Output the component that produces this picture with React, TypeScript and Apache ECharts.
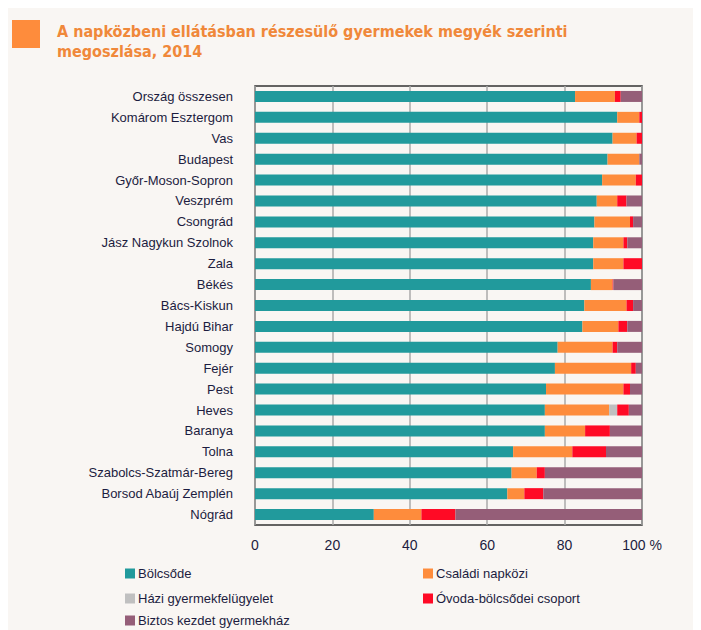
import React, { useEffect, useRef } from "react";
import * as echarts from "echarts";

const categories = [
  "Ország összesen",
  "Komárom Esztergom",
  "Vas",
  "Budapest",
  "Győr-Moson-Sopron",
  "Veszprém",
  "Csongrád",
  "Jász Nagykun Szolnok",
  "Zala",
  "Békés",
  "Bács-Kiskun",
  "Hajdú Bihar",
  "Somogy",
  "Fejér",
  "Pest",
  "Heves",
  "Baranya",
  "Tolna",
  "Szabolcs-Szatmár-Bereg",
  "Borsod Abaúj Zemplén",
  "Nógrád",
];

const bolcsode = [82.7, 93.6, 92.4, 91.1, 89.7, 88.3, 87.7, 87.4, 87.4, 86.8, 85.1, 84.6, 78.2, 77.5, 75.2, 74.9, 74.9, 66.7, 66.3, 65.2, 30.7];
const csaladi = [10.3, 5.7, 6.2, 8.2, 8.7, 5.3, 9.2, 7.8, 7.8, 5.6, 10.9, 9.3, 14.2, 19.7, 20.0, 16.6, 10.4, 15.3, 6.5, 4.4, 12.3];
const hazi = [0, 0, 0, 0, 0, 0, 0, 0, 0, 0, 0, 0, 0, 0, 0, 2.1, 0, 0, 0, 0, 0];
const ovoda = [1.5, 0.7, 1.4, 0, 1.6, 2.4, 0.8, 1.0, 4.8, 0.2, 1.7, 2.3, 1.2, 1.2, 1.7, 3.0, 6.4, 8.7, 2.1, 4.9, 8.8];
const biztos = [5.5, 0, 0, 0.7, 0, 4.0, 2.3, 3.8, 0, 7.4, 2.3, 3.8, 6.4, 1.6, 3.1, 3.4, 8.3, 9.3, 25.1, 25.5, 48.2];

const seriesNames = [
  "Bölcsőde",
  "Családi napközi",
  "Házi gyermekfelügyelet",
  "Óvoda-bölcsődei csoport",
  "Biztos kezdet gyermekház",
];
const seriesColors = ["#219a9c", "#fe8c3c", "#c0c0c0", "#ff0a25", "#955e78"];
const seriesData = [bolcsode, csaladi, hazi, ovoda, biztos];

const titleText = "A napközbeni ellátásban részesülő gyermekek megyék szerinti\nmegoszlása, 2014";

export default function App() {
  const ref = useRef<HTMLDivElement>(null);
  useEffect(() => {
    if (!ref.current) return;
    const chart = echarts.init(ref.current, null, { renderer: "svg" });
    const textColor = "#1c1c40";
    const legendPos = [
      { left: 112, top: 554 },
      { left: 410, top: 554 },
      { left: 112, top: 579 },
      { left: 410, top: 579 },
      { left: 112, top: 601 },
    ];
    chart.setOption({
      animation: false,
      backgroundColor: "#f9f6f3",
      title: {
        text: titleText,
        left: 44,
        top: 8,
        textStyle: {
          color: "#f0883a",
          fontSize: 16,
          fontWeight: "bold",
          fontFamily: "'DejaVu Sans Condensed', 'Liberation Sans Narrow', sans-serif",
          lineHeight: 20,
        },
      },
      graphic: [
        {
          type: "rect",
          left: 4,
          top: 12,
          shape: { width: 28, height: 28 },
          style: { fill: "#fe8c3c" },
        },
      ],
      legend: seriesNames.map((n, i) => ({
        data: [n],
        left: legendPos[i].left,
        top: legendPos[i].top,
        icon: "rect",
        itemWidth: 10,
        itemHeight: 10,
        itemGap: 4,
        selectedMode: false,
        textStyle: {
          color: textColor,
          fontSize: 13,
          fontFamily: "'Liberation Sans', Arial, sans-serif",
          padding: [0, 0, 0, -2],
        },
      })),
      grid: {
        left: 247,
        right: 51,
        top: 78,
        bottom: 105,
        show: true,
        borderColor: "#333333",
        borderWidth: 1.5,
        backgroundColor: "transparent",
      },
      xAxis: {
        type: "value",
        min: 0,
        max: 100,
        interval: 20,
        axisLine: { show: false },
        axisTick: { show: false },
        splitLine: { show: true, lineStyle: { color: "#aaaaaa", width: 1.5 } },
        axisLabel: {
          color: textColor,
          fontSize: 14,
          margin: 13,
          fontFamily: "'Liberation Sans', Arial, sans-serif",
          formatter: (v: number) => (v === 100 ? "100 %" : String(v)),
        },
      },
      yAxis: {
        type: "category",
        data: categories,
        inverse: true,
        axisLine: { show: false },
        axisTick: { show: false },
        axisLabel: {
          color: textColor,
          fontSize: 13,
          margin: 22,
          fontFamily: "'Liberation Sans', Arial, sans-serif",
        },
      },
      series: seriesNames.map((n, i) => ({
        name: n,
        type: "bar",
        stack: "total",
        barWidth: 11,
        data: seriesData[i],
        itemStyle: { color: seriesColors[i] },
      })),
    });
    return () => chart.dispose();
  }, []);
  return (
    <div
      ref={ref}
      style={{ position: "fixed", left: 8, top: 8, width: 685, height: 622 }}
    />
  );
}
